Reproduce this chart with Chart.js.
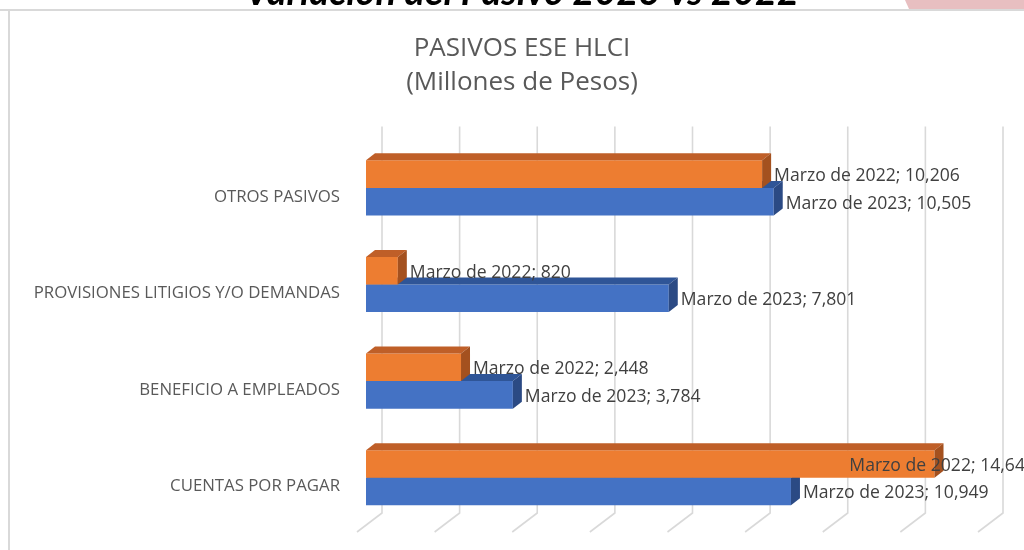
<!DOCTYPE html>
<html><head><meta charset="utf-8">
<script src="https://cdn.jsdelivr.net/npm/chart.js@4.4.1/dist/chart.umd.min.js"></script>
<style>html,body{margin:0;padding:0;background:#fff;overflow:hidden}canvas{display:block}</style>
</head><body>
<canvas id="c" width="1024" height="550"></canvas>
<script>
const categories = ['OTROS PASIVOS', 'PROVISIONES LITIGIOS Y/O DEMANDAS', 'BENEFICIO A EMPLEADOS', 'CUENTAS POR PAGAR'];
const seriesNames = ['Marzo de 2022', 'Marzo de 2023'];
const values2022 = [10206, 820, 2448, 14648];
const values2023 = [10505, 7801, 3784, 10949];
const axisMin = 0, axisMax = 16000, axisStep = 2000;
const pageTitle = 'Variación del Pasivo 2023 vs 2022';
const chartTitle = ['PASIVOS ESE HLCI', '(Millones de Pesos)'];

const FONT = '"Open Sans"';
const DEPTH_X = 9, DEPTH_Y = 7;       // bar 3D depth
const WALL_X = 16, WALL_Y = 13;       // back wall offset from bar front
const FLOOR_X = 9, FLOOR_Y = 6;       // floor front offset
const faceColors = [
  { front: '#ED7D31', top: '#BF5F28', side: '#A4511F' },
  { front: '#4472C4', top: '#2F5597', side: '#2B4A84' }
];

const framePlugin = {
  id: 'frame',
  beforeDraw(chart) {
    const ctx = chart.ctx;
    ctx.save();
    ctx.fillStyle = '#ffffff';
    ctx.fillRect(0, 0, chart.width, chart.height);
    ctx.fillStyle = '#E8BFC1';
    ctx.beginPath();
    ctx.moveTo(905, 0); ctx.lineTo(1024, 0); ctx.lineTo(1024, 9); ctx.lineTo(909, 9); ctx.closePath();
    ctx.fill();
    ctx.fillStyle = '#000000';
    ctx.font = 'italic bold 38px Lato';
    ctx.textAlign = 'center';
    ctx.textBaseline = 'alphabetic';
    ctx.fillText(pageTitle, 522, 5);
    ctx.strokeStyle = '#D9D9D9';
    ctx.lineWidth = 2;
    ctx.beginPath();
    ctx.moveTo(0, 10); ctx.lineTo(1024, 10);
    ctx.moveTo(9, 10); ctx.lineTo(9, 550);
    ctx.stroke();
    ctx.restore();
  }
};

const grid3dPlugin = {
  id: 'grid3d',
  beforeDatasetsDraw(chart) {
    const ctx = chart.ctx, xs = chart.scales.x, area = chart.chartArea;
    ctx.save();
    ctx.strokeStyle = '#D9D9D9';
    ctx.lineWidth = 1.6;
    ctx.beginPath();
    xs.ticks.forEach(t => {
      const px = xs.getPixelForValue(t.value);
      ctx.moveTo(px + WALL_X, area.top - WALL_Y);
      ctx.lineTo(px + WALL_X, area.bottom - WALL_Y);
      ctx.lineTo(px - FLOOR_X, area.bottom + FLOOR_Y);
    });
    ctx.stroke();
    ctx.restore();
  }
};

const bar3dPlugin = {
  id: 'bar3d',
  afterDatasetDraw(chart, args) {
    const ctx = chart.ctx, cols = faceColors[args.index];
    ctx.save();
    args.meta.data.forEach(el => {
      const p = el.getProps(['x', 'y', 'base', 'height'], true);
      const top = p.y - p.height / 2, bottom = p.y + p.height / 2;
      ctx.fillStyle = cols.top;
      ctx.beginPath();
      ctx.moveTo(p.base, top); ctx.lineTo(p.base + DEPTH_X, top - DEPTH_Y);
      ctx.lineTo(p.x + DEPTH_X, top - DEPTH_Y); ctx.lineTo(p.x, top); ctx.closePath();
      ctx.fill();
      ctx.fillStyle = cols.side;
      ctx.beginPath();
      ctx.moveTo(p.x, top); ctx.lineTo(p.x + DEPTH_X, top - DEPTH_Y);
      ctx.lineTo(p.x + DEPTH_X, bottom - DEPTH_Y); ctx.lineTo(p.x, bottom); ctx.closePath();
      ctx.fill();
    });
    ctx.restore();
  }
};

const labelPlugin = {
  id: 'barLabels',
  afterDatasetsDraw(chart) {
    const ctx = chart.ctx;
    ctx.save();
    ctx.font = '17.6px ' + FONT;
    ctx.fillStyle = '#404040';
    ctx.textBaseline = 'middle';
    ctx.textAlign = 'left';
    chart.data.datasets.forEach((ds, i) => {
      chart.getDatasetMeta(i).data.forEach((el, j) => {
        const p = el.getProps(['x', 'y'], true);
        const txt = ds.label + '; ' + ds.data[j].toLocaleString('en-US');
        const w = ctx.measureText(txt).width;
        let x = p.x + DEPTH_X + 3;
        if (x + w > 1035) x = 1035 - w;
        ctx.fillText(txt, x, p.y + 2);
      });
    });
    ctx.restore();
  }
};

new Chart(document.getElementById('c'), {
  type: 'bar',
  data: {
    labels: categories,
    datasets: [
      { label: seriesNames[0], data: values2022, backgroundColor: faceColors[0].front },
      { label: seriesNames[1], data: values2023, backgroundColor: faceColors[1].front }
    ]
  },
  options: {
    indexAxis: 'y',
    responsive: false,
    devicePixelRatio: 1,
    animation: false,
    layout: { padding: { left: 20, right: 0, top: 0, bottom: 24 } },
    datasets: { bar: { categoryPercentage: 0.57, barPercentage: 1.0, borderWidth: 0 } },
    scales: {
      x: { display: false, min: axisMin, max: axisMax, ticks: { stepSize: axisStep } },
      y: {
        grid: { display: false, drawTicks: false },
        border: { display: false },
        ticks: { color: '#595959', font: { family: FONT, size: 16.8 }, padding: 26, labelOffset: 9 },
        afterFit(scale) { scale.width = 346; scale.paddingTop = 0; scale.paddingBottom = 0; }
      },
      yRight: {
        type: 'category', position: 'right', labels: categories,
        grid: { display: false, drawTicks: false },
        border: { display: false },
        ticks: { display: false },
        afterFit(scale) { scale.width = 37; scale.paddingTop = 0; scale.paddingBottom = 0; }
      }
    },
    plugins: {
      legend: { display: false },
      tooltip: { enabled: false },
      title: {
        display: true, text: chartTitle, color: '#595959',
        font: { family: FONT, size: 26, weight: 'normal', lineHeight: 1.3 },
        padding: { top: 31.5, bottom: 40.5 }
      }
    }
  },
  plugins: [framePlugin, grid3dPlugin, bar3dPlugin, labelPlugin]
});
</script>
</body></html>
